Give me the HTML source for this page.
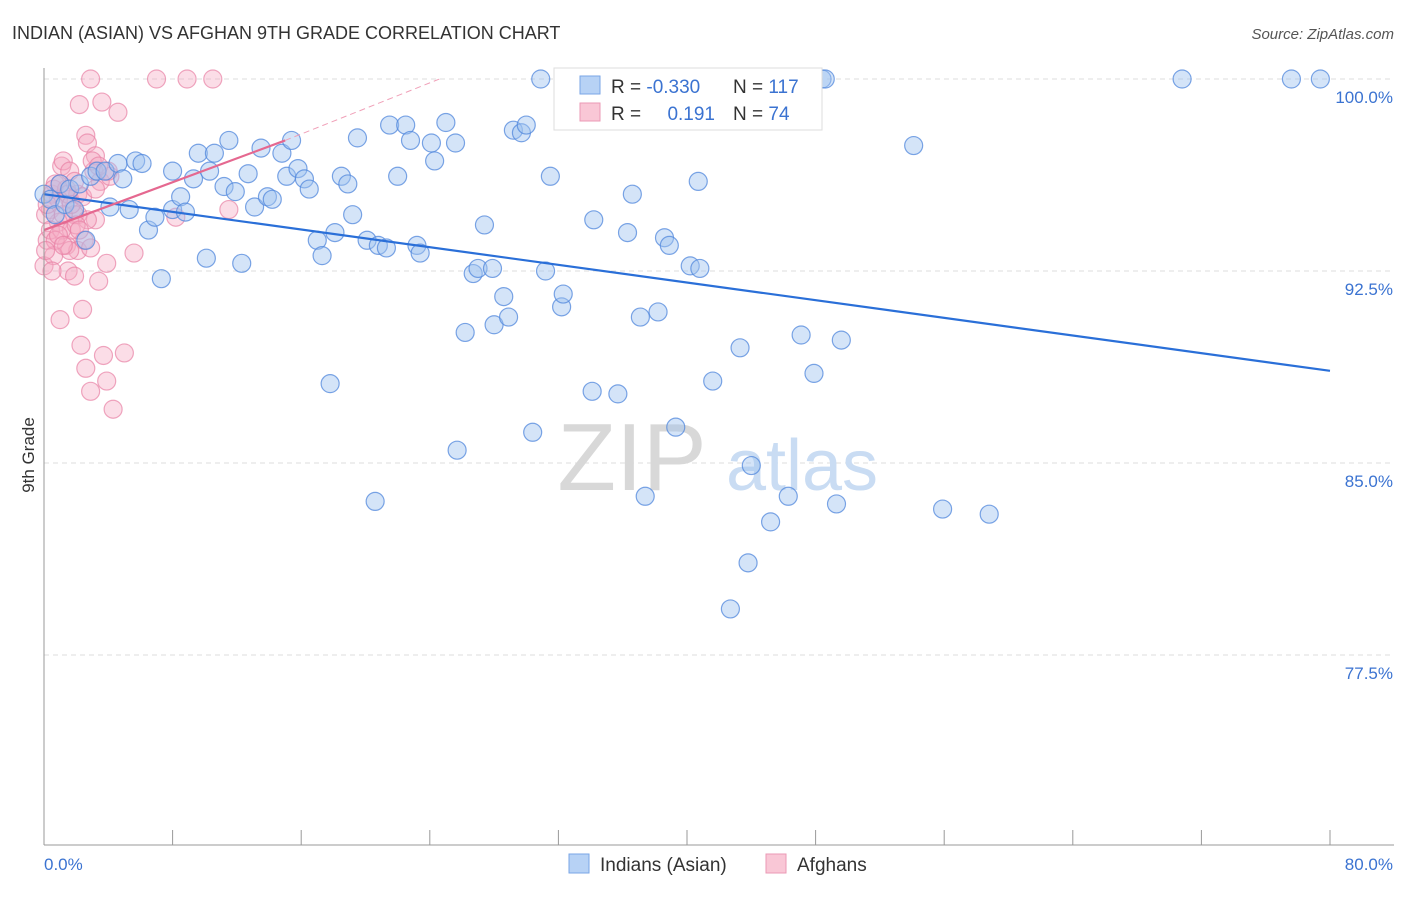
<!DOCTYPE html>
<html><head><meta charset="utf-8"><style>
body{margin:0;background:#fff;font-family:"Liberation Sans",sans-serif;}
svg text{font-family:"Liberation Sans",sans-serif;}
</style></head><body>
<svg id="chart" width="1406" height="892">
<text x="12" y="39" font-size="18" fill="#333">INDIAN (ASIAN) VS AFGHAN 9TH GRADE CORRELATION CHART</text>
<text x="1394" y="39" font-size="15" fill="#555" font-style="italic" text-anchor="end">Source: ZipAtlas.com</text>
<g id="grid"></g>
<g>
<text x="632" y="490" font-size="96" fill="#d8d8d8" font-family="Liberation Serif, serif" text-anchor="middle">ZIP</text>
<text x="802" y="490" font-size="72" fill="#c9dcf3" text-anchor="middle">atlas</text>
</g>
<g id="marks"></g>
<g id="axes"></g>
<text x="34" y="455" font-size="17" fill="#333" transform="rotate(-90 34 455)" text-anchor="middle">9th Grade</text>
<g>
<rect x="554" y="68" width="268" height="62" fill="#fff" stroke="#ddd"/>
<rect x="580" y="76" width="20" height="18" fill="#b7d2f5" stroke="#7aa6e6"/>
<rect x="580" y="103" width="20" height="18" fill="#f9c7d6" stroke="#eb9ab5"/>
<text x="611" y="93" font-size="19" fill="#333">R = <tspan fill="#3b73d1">-0.330</tspan></text>
<text x="733" y="93" font-size="19" fill="#333">N = <tspan fill="#3b73d1">117</tspan></text>
<text x="611" y="120" font-size="19" fill="#333">R = </text>
<text x="715" y="120" font-size="19" fill="#3b73d1" text-anchor="end">0.191</text>
<text x="733" y="120" font-size="19" fill="#333">N = <tspan fill="#3b73d1"> 74</tspan></text>
</g>
<g>
<rect x="569" y="854" width="20" height="19" fill="#b7d2f5" stroke="#7aa6e6"/>
<text x="600" y="871" font-size="19" fill="#333">Indians (Asian)</text>
<rect x="766" y="854" width="20" height="19" fill="#f9c7d6" stroke="#eb9ab5"/>
<text x="797" y="871" font-size="19" fill="#333">Afghans</text>
</g>
</svg>
<script>
const yTicks=[100,92.5,85,77.5];
const yTickLabels=["100.0%","92.5%","85.0%","77.5%"];
const xTickLabels=["0.0%","80.0%"];
const blueX=[30.9,48.4,48.6,70.8,77.6,79.4,0,0.4,0.7,1.0,1.3,1.6,1.9,2.2,2.6,2.9,3.3,3.8,4.1,4.6,4.9,5.3,5.7,6.1,6.5,6.9,7.3,8.0,8.0,8.5,8.8,9.3,9.6,10.1,10.3,10.6,11.2,11.5,11.9,12.3,12.7,13.1,13.5,13.9,14.2,14.8,15.1,15.4,15.8,16.2,16.5,17.0,17.3,17.8,18.1,18.5,18.9,19.2,19.5,20.1,20.6,20.8,21.3,21.5,22.0,22.5,22.8,23.2,23.4,24.1,24.3,25.0,25.6,25.7,26.2,26.7,27.0,27.4,27.9,28.0,28.6,28.9,29.2,29.7,30.0,30.4,31.2,31.5,32.2,32.3,34.1,34.2,35.7,36.3,36.6,37.1,37.4,38.2,38.6,38.9,39.3,40.2,40.8,40.7,41.6,42.7,43.3,43.8,44.0,45.2,46.3,47.1,47.9,49.3,49.6,54.1,55.9,58.8];
const blueY=[100,100,100,100,100,100,95.5,95.3,94.7,95.9,95.1,95.7,94.9,95.9,93.7,96.2,96.4,96.4,95.0,96.7,96.1,94.9,96.8,96.7,94.1,94.6,92.2,96.4,94.9,95.4,94.8,96.1,97.1,93.0,96.4,97.1,95.8,97.6,95.6,92.8,96.3,95.0,97.3,95.4,95.3,97.1,96.2,97.6,96.5,96.1,95.7,93.7,93.1,88.1,94.0,96.2,95.9,94.7,97.7,93.7,83.5,93.5,93.4,98.2,96.2,98.2,97.6,93.5,93.2,97.5,96.8,98.3,97.5,85.5,90.1,92.4,92.6,94.3,92.6,90.4,91.5,90.7,98.0,97.9,98.2,86.2,92.5,96.2,91.1,91.6,87.8,94.5,87.7,94.0,95.5,90.7,83.7,90.9,93.8,93.5,86.4,92.7,92.6,96.0,88.2,79.3,89.5,81.1,84.9,82.7,83.7,90.0,88.5,83.4,89.8,97.4,83.2,83.0];
const pinkX=[0,0.2,0.4,0.5,0.7,0.9,1.0,1.1,1.2,1.4,1.5,1.6,1.7,1.9,2.1,2.1,2.2,2.3,2.4,2.6,2.6,2.7,2.9,2.9,3.1,3.2,3.2,3.4,3.5,3.6,3.7,3.9,3.9,4.1,4.3,4.6,5.0,5.6,7.0,8.2,8.9,10.5,11.5,0.1,0.4,0.6,0.9,1.1,1.4,1.6,1.9,2.1,2.5,2.7,3.0,0.6,1.0,1.2,0.7,1.5,1.7,2.0,2.2,0.1,0.5,0.9,1.2,1.6,1.9,2.4,2.9,3.4,4.0,0.2,3.2];
const pinkY=[92.7,93.7,94.9,95.5,95.9,94.4,90.6,96.6,96.8,93.5,92.5,95.3,94.1,92.3,94.7,93.3,99.0,89.6,91.0,88.7,97.8,97.5,87.8,100,96.4,97.0,94.5,92.1,96.0,99.1,89.2,88.2,92.8,96.2,87.1,98.7,89.3,93.2,100,94.6,100,100,94.9,94.7,94.1,95.7,95.3,94.1,95.7,93.3,94.7,95.5,93.7,94.5,96.8,93.1,95.9,94.7,93.7,95.5,95.1,94.3,94.1,93.3,92.5,93.9,93.5,96.4,96.0,95.4,93.4,96.6,96.4,95.1,95.7];
const blueTrend=[0,95.5,80,88.6];
const pinkTrend=[0,94.1,15,97.6];
const pinkDashEnd=[24.6,100];

const X0=44,X1=1330,Y100=79,PX_PER_PCT=25.6;
const sx=v=>X0+(v/80)*(X1-X0);
const sy=v=>Y100+(100-v)*PX_PER_PCT;
const NS="http://www.w3.org/2000/svg";
function mk(tag,attrs,parent){const e=document.createElementNS(NS,tag);for(const k in attrs)e.setAttribute(k,attrs[k]);parent.appendChild(e);return e;}
const grid=document.getElementById('grid'),marks=document.getElementById('marks'),axes=document.getElementById('axes');
yTicks.forEach((t,i)=>{
  const l=mk('line',{x1:X0,x2:1394,y1:sy(t),y2:sy(t),stroke:'#ddd','stroke-dasharray':'5,4'},grid);
  
  
  const tx=mk('text',{x:1393,y:sy(t)+24,'font-size':17,fill:'#3b73d1','text-anchor':'end'},axes);
  tx.textContent=yTickLabels[i];
  
  
});
const la=mk('line',{x1:X0,x2:X0,y1:68,y2:845,stroke:'#999'},axes);


const lb=mk('line',{x1:X0,x2:1394,y1:845,y2:845,stroke:'#999'},axes);


for(let i=0;i<=10;i++){
  const t=mk('line',{x1:sx(i*8),x2:sx(i*8),y1:830,y2:845,stroke:'#999'},axes);
  
  
}
const xl0=mk('text',{x:44,y:870,'font-size':17,fill:'#3b73d1'},axes);xl0.textContent=xTickLabels[0];


const xl1=mk('text',{x:1393,y:870,'font-size':17,fill:'#3b73d1','text-anchor':'end'},axes);xl1.textContent=xTickLabels[1];



pinkX.forEach((x,i)=>{
  const c=mk('circle',{cx:sx(x),cy:sy(pinkY[i]),r:9,fill:'rgba(245,170,195,0.4)',stroke:'rgba(232,130,165,0.7)','stroke-width':1.2},marks);
  
  
});
blueX.forEach((x,i)=>{
  const c=mk('circle',{cx:sx(x),cy:sy(blueY[i]),r:9,fill:'rgba(160,195,240,0.45)',stroke:'rgba(80,135,220,0.75)','stroke-width':1.2},marks);
  
  
});
const bt=mk('line',{x1:sx(blueTrend[0]),y1:sy(blueTrend[1]),x2:sx(blueTrend[2]),y2:sy(blueTrend[3]),stroke:'#2a6fd8','stroke-width':2.2},marks);


const pd=mk('line',{x1:sx(pinkTrend[2]),y1:sy(pinkTrend[3]),x2:sx(pinkDashEnd[0]),y2:sy(pinkDashEnd[1]),stroke:'#f0a0b8','stroke-width':1,'stroke-dasharray':'6,4'},marks);


const pt=mk('line',{x1:sx(pinkTrend[0]),y1:sy(pinkTrend[1]),x2:sx(pinkTrend[2]),y2:sy(pinkTrend[3]),stroke:'#e56890','stroke-width':2.2},marks);


</script>
</body></html>
